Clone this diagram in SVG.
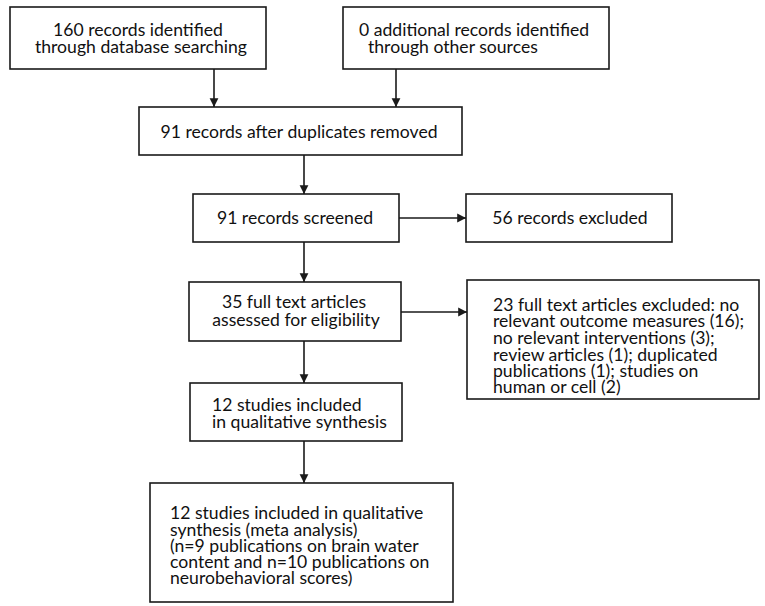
<svg xmlns="http://www.w3.org/2000/svg" width="765" height="606" viewBox="0 0 765 606">
<style>
.box{fill:#fff;stroke:#1a1a1a;stroke-width:1.6}
.t{font-family:Lato,"Liberation Sans",sans-serif;font-size:17.6px;fill:#111}
.c{text-anchor:middle}
.ln{stroke:#1a1a1a;stroke-width:1.6;fill:none;marker-end:url(#ah)}
</style>
<defs>
<marker id="ah" viewBox="0 0 10 10" refX="10" refY="5" markerWidth="5.5" markerHeight="6" orient="auto" markerUnits="strokeWidth">
<path d="M0,0 L10,5 L0,10 z" fill="#1a1a1a"/>
</marker>
</defs>
<rect width="765" height="606" fill="#fff"/>
<g id="connectors">
<line class="ln" x1="214" y1="69" x2="214" y2="107"/>
<line class="ln" x1="396" y1="69" x2="396" y2="107"/>
<line class="ln" x1="304" y1="155" x2="304" y2="194"/>
<line class="ln" x1="399" y1="218" x2="466" y2="218"/>
<line class="ln" x1="304" y1="242" x2="304" y2="282"/>
<line class="ln" x1="401" y1="312" x2="467" y2="312"/>
<line class="ln" x1="304" y1="341" x2="304" y2="383"/>
<line class="ln" x1="304" y1="441" x2="304" y2="483"/>
</g>
<g id="n1">
<rect class="box" x="10" y="7" width="256" height="62"/>
<text class="t c" x="138" y="36">160 records identified</text>
<text class="t c" x="141" y="53">through database searching</text>
</g>
<g id="n2">
<rect class="box" x="343" y="7" width="266" height="62"/>
<text class="t" x="359" y="36">0 additional records identified</text>
<text class="t" x="368" y="53">through other sources</text>
</g>
<g id="n3">
<rect class="box" x="139" y="107" width="323" height="48"/>
<text class="t c" x="299" y="138">91 records after duplicates removed</text>
</g>
<g id="n4">
<rect class="box" x="193" y="194" width="206" height="48"/>
<text class="t c" x="295" y="224">91 records screened</text>
</g>
<g id="n5">
<rect class="box" x="466" y="194" width="206" height="48"/>
<text class="t c" x="570" y="224">56 records excluded</text>
</g>
<g id="n6">
<rect class="box" x="189" y="282" width="212" height="59"/>
<text class="t c" x="294" y="308">35 full text articles</text>
<text class="t c" x="296" y="326">assessed for eligibility</text>
</g>
<g id="n7">
<rect class="box" x="467" y="280" width="292" height="119"/>
<text class="t" x="493" y="311">23 full text articles excluded: no</text>
<text class="t" x="493" y="327">relevant outcome measures (16);</text>
<text class="t" x="493" y="344">no relevant interventions (3);</text>
<text class="t" x="493" y="361">review articles (1); duplicated</text>
<text class="t" x="493" y="377">publications (1); studies on</text>
<text class="t" x="493" y="393">human or cell (2)</text>
</g>
<g id="n8">
<rect class="box" x="190" y="383" width="212" height="58"/>
<text class="t" x="212" y="411">12 studies included</text>
<text class="t" x="212" y="428">in qualitative synthesis</text>
</g>
<g id="n9">
<rect class="box" x="150" y="483" width="303" height="119"/>
<text class="t" x="170" y="519">12 studies included in qualitative</text>
<text class="t" x="170" y="536">synthesis (meta analysis)</text>
<text class="t" x="170" y="552">(n=9 publications on brain water</text>
<text class="t" x="170" y="568">content and n=10 publications on</text>
<text class="t" x="170" y="584">neurobehavioral scores)</text>
</g>
</svg>
